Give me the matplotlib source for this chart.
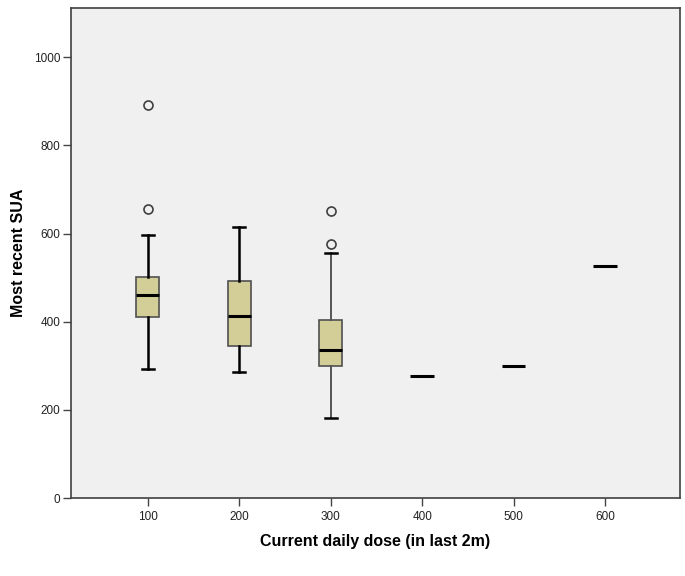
import numpy as np
import matplotlib
matplotlib.use('Agg')
import matplotlib.pyplot as plt

plt.rcParams['font.family'] = ['Liberation Sans', 'DejaVu Sans']

doses = ['100', '200', '300', '400', '500', '600']
q1 = [411, 344, 300, 278, 300, 527]
med = [460, 414, 335, 278, 300, 527]
q3 = [502, 493, 403, 278, 300, 527]
whislo = [293, 285, 181, 278, 300, 527]
whishi = [596, 616, 555, 278, 300, 527]
fliers = [[891, 655], [], [651, 576], [], [], []]

stats = []
for i in range(len(doses)):
    stats.append(dict(med=med[i], q1=q1[i], q3=q3[i], whislo=whislo[i],
                      whishi=whishi[i], fliers=fliers[i], label=doses[i]))

fig = plt.figure(figsize=(6.85, 5.76), dpi=100)
ax = fig.add_axes([0.1037, 0.1354, 0.889, 0.8507])
ax.set_facecolor('#f0f0f0')

pos = np.arange(len(doses))
bp = ax.bxp(stats, positions=pos, widths=0.255, patch_artist=True,
            showfliers=True,
            boxprops=dict(facecolor='#d3ce97', edgecolor='#505050', linewidth=1.2),
            medianprops=dict(color='black', linewidth=2.2),
            whiskerprops=dict(color='black', linewidth=1.8),
            capprops=dict(color='black', linewidth=1.8),
            flierprops=dict(marker='o', markerfacecolor='none',
                            markeredgecolor='#404040', markersize=6.5,
                            markeredgewidth=1.2))

# the 300 group is drawn with thinner grey whiskers
for ln in bp['whiskers'][4:6]:
    ln.set_color('#555555')
    ln.set_linewidth(1.4)

# single value groups only show the median line
for i in range(3, 6):
    bp['boxes'][i].set_visible(False)
    for ln in bp['whiskers'][2*i:2*i+2] + bp['caps'][2*i:2*i+2]:
        ln.set_visible(False)

ax.set_xlim(-0.84, 5.82)
ax.set_ylim(0, 1112)
ax.set_yticks([0, 200, 400, 600, 800, 1000])
ax.set_xticks(pos)
ax.set_xticklabels(doses)

ax.tick_params(axis='both', direction='out', length=6, width=1,
               color='#444444', labelsize=8.5, labelcolor='#222222')
ax.tick_params(axis='y', pad=1.5)
ax.tick_params(axis='x', pad=3)
for s in ax.spines.values():
    s.set_color('#404040')
    s.set_linewidth(1.2)

ax.set_xlabel('Current daily dose (in last 2m)', fontsize=11.5,
              fontweight='bold', labelpad=8.5)
ax.set_ylabel('Most recent SUA', fontsize=11.5, fontweight='bold', labelpad=6)

plt.savefig('out.png', dpi=100)
